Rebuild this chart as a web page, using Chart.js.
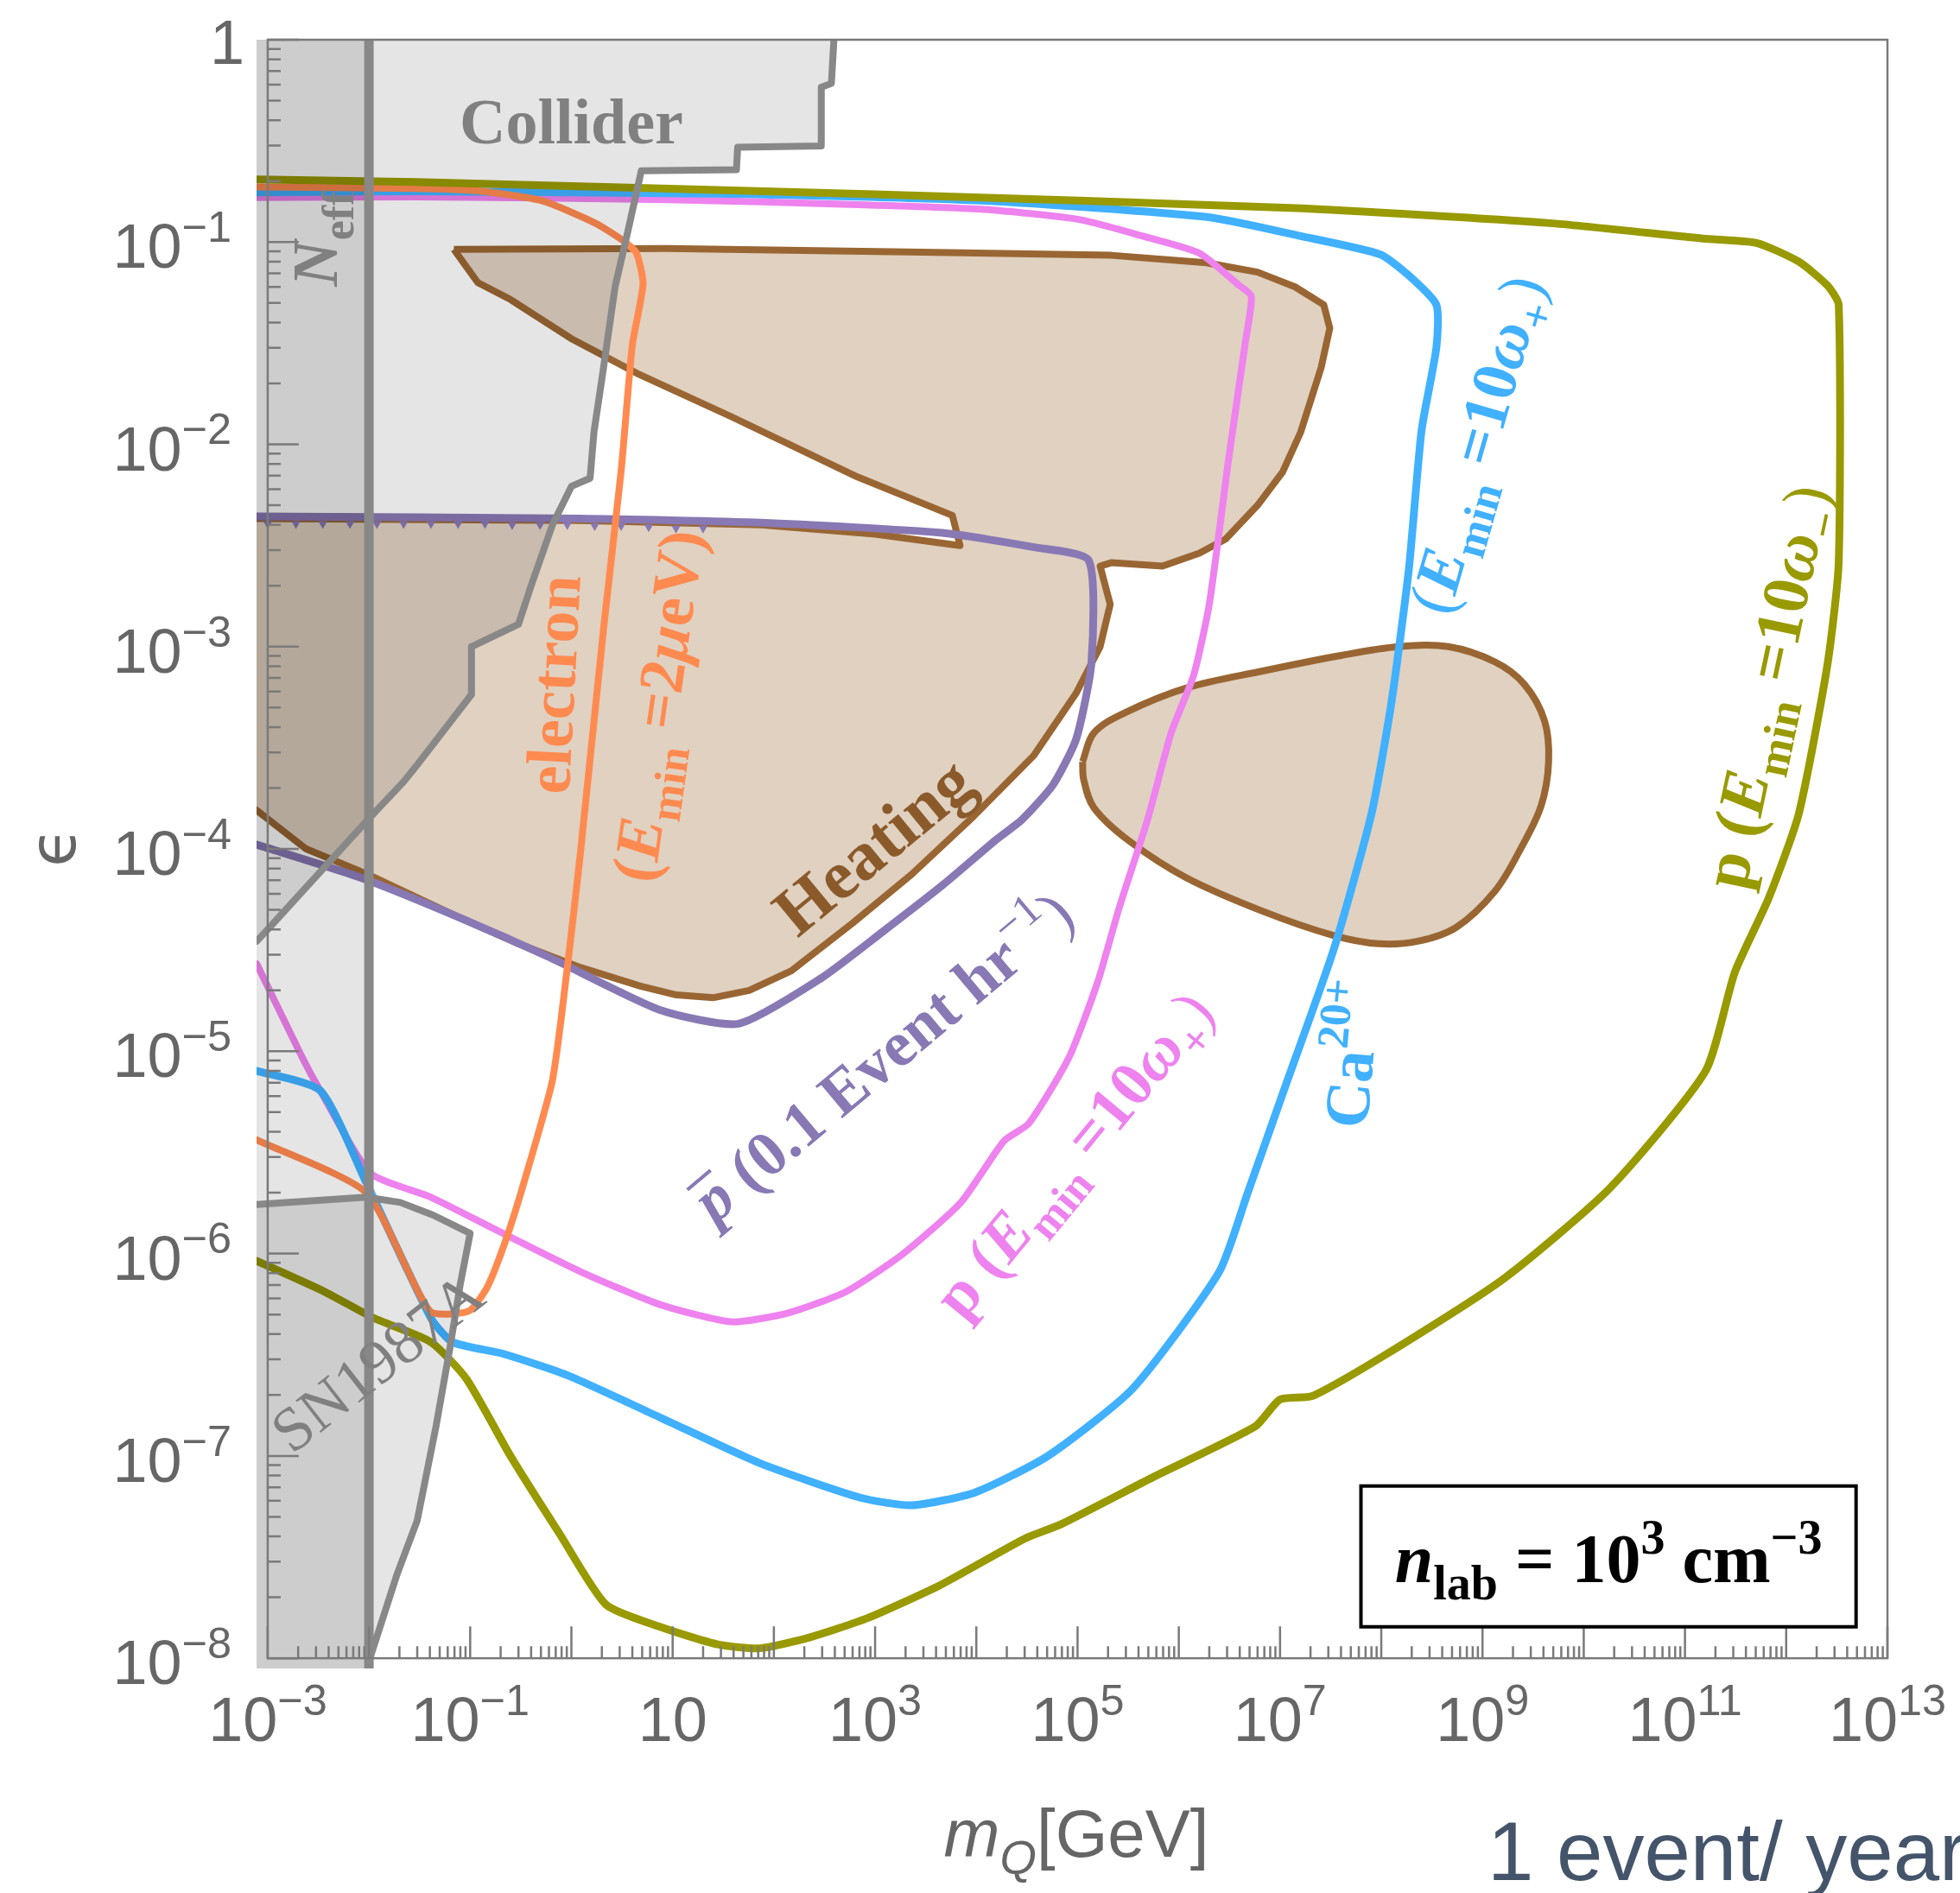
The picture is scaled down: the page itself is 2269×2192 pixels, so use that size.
<!DOCTYPE html>
<html>
<head>
<meta charset="utf-8">
<title>Millicharged particle reach, n_lab = 10^3 cm^-3</title>
<script src="https://cdn.jsdelivr.net/npm/chart.js@4.4.1/dist/chart.umd.min.js"></script>
<style>
    html, body { margin: 0; padding: 0; background: #ffffff; }
    #wrap { width: 2269px; height: 2192px; }
</style>
</head>
<body>
<div id="wrap"><canvas id="reach" width="2269" height="2192"></canvas></div>
<script>

// ####################### DATA (m_Q in GeV, epsilon) #######################

// plot range, Mathematica leaves a little padding left of 1e-3 and under 1e-8
var xRange = [7.76e-4, 1e13];
var yRange = [8.9e-9, 1];

var xTickValues = [1e-3, 1e-1, 1e1, 1e3, 1e5, 1e7, 1e9, 1e11, 1e13];
var xTickPowers = ['\u22123', '\u22121', '', '3', '5', '7', '9', '11', '13'];
var yTickValues = [1, 1e-1, 1e-2, 1e-3, 1e-4, 1e-5, 1e-6, 1e-7, 1e-8];
var yTickPowers = [null, '\u22121', '\u22122', '\u22123', '\u22124', '\u22125', '\u22126', '\u22127', '\u22128'];

// p (E_min = 10 omega_-)
var olivePts = [
    [7.8e-4, 9.2e-7], [3.6e-3, 6.5e-7], [1.12e-2, 4.8e-7], [4.1e-2, 3.65e-7], [9.2e-2, 2.4e-7],
    [0.25, 1.0e-7], [0.77, 4.1e-8], [2.2, 1.84e-8], [7.5, 1.43e-8], [27.8, 1.17e-8],
    [73, 1.12e-8], [228, 1.27e-8], [843, 1.58e-8], [4.4e3, 2.3e-8], [3.0e4, 3.9e-8],
    [6.9e4, 4.6e-8], [5.7e5, 7.9e-8], [5.7e6, 1.4e-7], [1.0e7, 1.9e-7], [2.1e7, 1.98e-7],
    [1.03e8, 3.1e-7], [1.67e9, 7.6e-7], [1.8e10, 2.1e-6], [1.6e11, 8.0e-6], [3.1e11, 2.45e-5],
    [6.7e11, 5.7e-5], [1.33e12, 1.49e-4], [2.55e12, 8.1e-4], [3.3e12, 2.6e-3], [3.3e12, 4.9e-2],
    [2.55e12, 6.1e-2], [1.33e12, 8.0e-2], [5.1e11, 9.9e-2], [1.5e11, 0.104], [4.6e9, 0.124],
    [1.45e7, 0.147], [1e3, 0.172], [2.9e-2, 0.198], [7.8e-4, 0.204]
];

// Ca20+ (E_min = 10 omega_+)
var bluePts = [
    [7.8e-4, 8.0e-6], [3.3e-3, 6.4e-6], [9.4e-3, 2.25e-6], [4.1e-2, 4.8e-7], [6.7e-2, 3.65e-7],
    [0.21, 3.2e-7], [0.92, 2.5e-7], [7.5, 1.55e-7], [73, 9.2e-8], [731, 6.2e-8],
    [2.3e3, 5.7e-8], [9.7e3, 6.6e-8], [5.1e4, 1.0e-7], [3.5e5, 2.15e-7], [2.5e6, 8.1e-7],
    [4.8e6, 2.0e-6], [1.09e7, 6.4e-6], [3.4e7, 3.2e-5], [8.0e7, 1.49e-4], [1.26e8, 5.3e-4],
    [1.87e8, 2.4e-3], [2.5e8, 1.17e-2], [3.5e8, 3.0e-2], [3.5e8, 4.9e-2], [1.77e8, 7.0e-2],
    [9.7e7, 8.7e-2], [1.6e7, 0.107], [1.9e6, 0.133], [1.2e4, 0.16], [38, 0.173],
    [2.9e-2, 0.178], [7.8e-4, 0.176]
];

// p (E_min = 10 omega_+)
var pinkPts = [
    [7.8e-4, 2.7e-5], [2.2e-3, 9.3e-6], [3.3e-3, 6.4e-6], [1.03e-2, 2.5e-6], [4.1e-2, 1.9e-6],
    [0.18, 1.31e-6], [1.26, 8.1e-7], [7.5, 5.6e-7], [38, 4.6e-7], [141, 5.1e-7],
    [520, 6.5e-7], [1.9e3, 1.0e-6], [7.1e3, 1.8e-6], [1.87e4, 3.6e-6], [3.3e4, 4.4e-6],
    [8.2e4, 9.3e-6], [1.58e5, 2.2e-5], [2.6e5, 5.2e-5], [4.9e5, 1.39e-4], [8.4e5, 3.75e-4],
    [1.4e6, 7.2e-4], [2.0e6, 1.62e-3], [3.1e6, 8.4e-3], [4.5e6, 3.1e-2], [5.2e6, 5.4e-2],
    [3.8e6, 6.2e-2], [1.6e6, 8.8e-2], [4.4e5, 0.107], [1.06e5, 0.129], [1.2e4, 0.145],
    [670, 0.153], [8.9, 0.162], [2.9e-2, 0.167], [7.8e-4, 0.166]
];

// electron (E_min = 2 ueV)
var orangePts = [
    [7.8e-4, 3.65e-6], [9.4e-3, 2.0e-6], [4.0e-2, 5.2e-7], [9.7e-2, 5.2e-7], [0.149, 6.9e-7],
    [0.228, 1.19e-6], [0.34, 2.25e-6], [0.65, 7.2e-6], [0.92, 2.7e-5], [1.22, 9.3e-5],
    [2.1, 1.29e-3], [3.1, 7.4e-3], [4.0, 3.1e-2], [5.1, 6.2e-2], [4.4, 8.8e-2],
    [3.3, 0.101], [1.72, 0.124], [0.51, 0.16], [0.119, 0.179], [2.9e-2, 0.184], [7.8e-4, 0.187]
];

// anti-proton (0.1 event / hr)
var purplePts = [
    [7.8e-4, 1.05e-4], [8.4e-3, 7.2e-5], [7.7e-2, 4.6e-5], [0.62, 2.9e-5], [7.5, 1.6e-5],
    [45, 1.37e-5], [294, 2.3e-5], [1.19e3, 3.9e-5], [4.6e3, 6.6e-5], [1.6e4, 1.12e-4],
    [2.8e4, 1.39e-4], [5.7e4, 2.07e-4], [9.7e4, 3.5e-4], [1.37e5, 8.3e-4], [1.29e5, 2.67e-3],
    [3.7e4, 3.1e-3], [4.6e3, 3.65e-3], [75, 4.1e-3], [1.22, 4.3e-3], [7.8e-4, 4.4e-3]
];

// small teeth hanging under the flat part of the anti-proton line
var purpleTeeth = [
    [1.0e-3, 4.05e-3], [1.9e-3, 4.05e-3], [3.5e-3, 4.05e-3], [6.5e-3, 4.05e-3], [1.2e-2, 4.05e-3],
    [2.2e-2, 4.05e-3], [4.1e-2, 4.05e-3], [7.6e-2, 4.05e-3], [0.14, 4.05e-3], [0.26, 4.0e-3],
    [0.49, 4.0e-3], [0.91, 4.0e-3], [1.7, 3.95e-3], [3.1, 3.95e-3], [5.8, 3.9e-3],
    [10.8, 3.85e-3], [20, 3.85e-3]
];

// heating exclusion, large outline (two lobes joined)
var heatingPts = [
    [6.9e-2, 9.2e-2], [8.9, 9.3e-2], [2.9e3, 8.9e-2], [2.15e5, 8.6e-2], [1.87e6, 7.9e-2],
    [6.0e6, 7.1e-2], [1.41e7, 6.0e-2], [2.7e7, 4.9e-2], [3.1e7, 3.75e-2], [2.55e7, 2.4e-2],
    [1.6e7, 1.15e-2], [1.06e7, 7.3e-3], [6.0e6, 5.0e-3], [2.9e6, 3.4e-3], [1.6e6, 2.9e-3],
    [6.9e5, 2.5e-3], [2.15e5, 2.6e-3], [1.67e5, 2.5e-3], [2.1e5, 1.62e-3], [1.67e5, 1.0e-3],
    [9.7e4, 5.9e-4], [3.7e4, 2.9e-4], [9.4e3, 1.45e-4], [2.3e3, 7.5e-5], [600, 4.3e-5],
    [149, 2.5e-5], [57, 2.0e-5], [25, 1.84e-5], [10.9, 1.9e-5], [4.8, 2.1e-5],
    [1.22, 2.6e-5], [0.30, 3.4e-5], [7.7e-2, 4.6e-5], [9.7e-3, 7.5e-5], [2.4e-3, 1.0e-4],
    [7.8e-4, 1.55e-4], [6e-4, 1.7e-4], [6e-4, 4.3e-3], [1.22, 4.2e-3], [75, 4.0e-3],
    [1e3, 3.6e-3], [6.9e3, 3.16e-3], [5.8e3, 4.45e-3], [670, 6.9e-3], [38, 1.37e-2],
    [4.4, 2.25e-2], [1.03, 3.3e-2], [0.25, 5.2e-2], [0.119, 6.3e-2], [6.9e-2, 9.2e-2]
];

// heating exclusion, separate island
var blobPts = [
    [1.12e5, 2.7e-4], [1.45e5, 3.75e-4], [2.9e5, 4.7e-4], [1.19e6, 6.25e-4], [6.9e6, 7.6e-4],
    [4.0e7, 9.05e-4], [1.49e8, 1.0e-3], [4.6e8, 1.0e-3], [1.33e9, 8.4e-4], [2.6e9, 6.5e-4],
    [4.1e9, 4.3e-4], [4.5e9, 2.7e-4], [3.8e9, 1.64e-4], [2.4e9, 1.01e-4], [1.33e9, 6.2e-5],
    [5.5e8, 4.1e-5], [2.3e8, 3.5e-5], [9.4e7, 3.4e-5], [3.3e7, 3.75e-5], [6.9e6, 4.9e-5],
    [1.19e6, 7.2e-5], [3.2e5, 1.1e-4], [1.45e5, 1.6e-4], [1.15e5, 2.2e-4], [1.12e5, 2.7e-4]
];

// collider bound (excluded to the upper left)
var colliderEdge = [
    [392, 1], [370, 0.608], [294, 0.582], [294, 0.2985], [43.9, 0.294], [42.7, 0.228], [4.9, 0.225],
    [3.6, 0.112], [2.7, 0.06], [2.04, 2.25e-2], [1.67, 1.15e-2], [1.53, 6.8e-3], [1.0, 6.2e-3],
    [0.65, 4.0e-3], [0.40, 2.0e-3], [0.30, 1.29e-3], [0.103, 1.0e-3], [0.103, 5.8e-4],
    [2.9e-2, 2.55e-4], [2.2e-2, 2.15e-4], [9.7e-3, 1.39e-4], [1e-3, 4.0e-5], [7.8e-4, 3.5e-5]
];
var colliderCorners = [[6e-4, 3.2e-5], [6e-4, 1.5], [392, 1.5]];

// SN1987A bound (excluded to the lower left)
var snEdge = [
    [7.8e-4, 1.75e-6], [9.4e-3, 1.9e-6], [2.04e-2, 1.79e-6], [4.3e-2, 1.55e-6], [0.1, 1.26e-6],
    [8.0e-2, 7.1e-7], [6.3e-2, 3.4e-7], [4.6e-2, 1.4e-7], [3.0e-2, 4.8e-8], [1.87e-2, 2.55e-8],
    [1.03e-2, 1.01e-8], [9.5e-3, 8.0e-9]
];
var snCorners = [[6e-4, 8.0e-9], [6e-4, 1.75e-6]];

// N_eff bound, m_Q < 10 MeV
var neffEdge = [[1e-2, 8.0e-9], [1e-2, 1.03]];
var neffBox = [[6e-4, 8.0e-9], [1e-2, 8.0e-9], [1e-2, 1.5], [6e-4, 1.5], [6e-4, 8.0e-9]];

// ####################### COLOURS #######################

var cOlive = '#999900';
var cBlue = '#40b0ff';
var cPink = '#ee82ee';
var cOrange = '#ff8a50';
var cPurple = '#8878b4';
var cBrown = '#996633';
var cGray = '#888888';
var tanFill = 'rgba(153,102,51,0.3)';
var grayFill = 'rgba(0,0,0,0.1)';

// ####################### HELPERS #######################

function toXY(pts) {
    return pts.map(function (p) { return {x: p[0], y: p[1]}; });
}

function curve(pts, color, width, tension) {
    return {
        data: toXY(pts), borderColor: color, borderWidth: width, tension: tension || 0,
        pointRadius: 0, fill: false, clip: 0, borderJoinStyle: 'round', borderCapStyle: 'round'
    };
}

function region(pts, fillColor, lineColor, width, tension) {
    return {
        data: toXY(pts), backgroundColor: fillColor, borderColor: lineColor || 'rgba(0,0,0,0)',
        borderWidth: width || 1, tension: tension || 0, pointRadius: 0, fill: 'shape', clip: 0,
        borderJoinStyle: 'round'
    };
}

function markers(pts, color, radius) {
    return {
        data: toXY(pts), showLine: false, pointStyle: 'triangle', rotation: 180,
        pointRadius: radius, pointBackgroundColor: color, pointBorderColor: color,
        pointBorderWidth: 0, fill: false, clip: 0
    };
}

function fontFor(style, size, family) {
    var f = '';
    if (style.indexOf('i') >= 0) f += 'italic ';
    if (style.indexOf('b') >= 0) f += 'bold ';
    return f + size + 'px ' + family;
}

// segments: [text, style]; style: b bold, i italic, _ subscript, ^ superscript, o overline
function drawRich(ctx, segs, x, y, opts) {
    var size = opts.size, family = opts.family, align = opts.align || 'center';
    ctx.save();
    ctx.translate(x, y);
    ctx.rotate((opts.angle || 0) * Math.PI / 180);
    ctx.fillStyle = opts.color;
    ctx.strokeStyle = opts.color;
    ctx.textAlign = 'left';
    ctx.textBaseline = 'alphabetic';

    var parts = [], total = 0;
    segs.forEach(function (sg) {
        var st = sg[1] || '';
        var small = st.indexOf('_') >= 0 || st.indexOf('^') >= 0;
        var fs = small ? size * 0.7 : size;
        ctx.font = fontFor(st, fs, family);
        var w = ctx.measureText(sg[0]).width;
        parts.push({t: sg[0], st: st, fs: fs, w: w});
        total += w;
    });

    var cx = align == 'center' ? -total / 2 : (align == 'right' ? -total : 0);
    var base = opts.dy !== undefined ? opts.dy : size * 0.33;
    parts.forEach(function (p) {
        ctx.font = fontFor(p.st, p.fs, family);
        var shift = 0;
        if (p.st.indexOf('_') >= 0) shift = size * 0.25;
        if (p.st.indexOf('^') >= 0) shift = -size * 0.42;
        ctx.fillText(p.t, cx, base + shift);
        if (p.st.indexOf('o') >= 0) {
            ctx.lineWidth = size * 0.055;
            ctx.beginPath();
            ctx.moveTo(cx + p.w * 0.05, base - size * 0.7);
            ctx.lineTo(cx + p.w * 1.0, base - size * 0.7);
            ctx.stroke();
        }
        cx += p.w;
    });
    ctx.restore();
}

// ####################### DECORATION: FRAME, TICKS, TEXT #######################

var SANS = "'Liberation Sans', Arial, sans-serif";
var SERIF = "'Liberation Serif', 'Times New Roman', serif";

var decorPlugin = {
    id: 'decor',
    beforeDraw: function (chart) {
        var ctx = chart.ctx;
        ctx.save();
        ctx.fillStyle = '#ffffff';
        ctx.fillRect(0, 0, chart.width, chart.height);
        ctx.restore();
    },
    afterDatasetsDraw: function (chart) {
        var ctx = chart.ctx;
        var xs = chart.scales.x, ys = chart.scales.y;
        var L = xs.getPixelForValue(1e-3), R = xs.getPixelForValue(1e13);
        var T = ys.getPixelForValue(1), B = ys.getPixelForValue(1e-8);
        var d, k, p;

        // frame
        ctx.save();
        ctx.strokeStyle = '#7a7a7a';
        ctx.lineWidth = 2.5;
        ctx.strokeRect(L, T, R - L, B - T);

        // inward ticks
        ctx.lineWidth = 2.5;
        ctx.beginPath();
        for (d = -3; d <= 13; d++) {
            p = xs.getPixelForValue(Math.pow(10, d));
            ctx.moveTo(p, B); ctx.lineTo(p, B - 37);
            if (d < 13) {
                for (k = 2; k <= 9; k++) {
                    p = xs.getPixelForValue(k * Math.pow(10, d));
                    ctx.moveTo(p, B); ctx.lineTo(p, B - 14);
                }
            }
        }
        for (d = -8; d <= 0; d++) {
            p = ys.getPixelForValue(Math.pow(10, d));
            ctx.moveTo(L, p); ctx.lineTo(L + 36, p);
            if (d < 0) {
                for (k = 2; k <= 9; k++) {
                    p = ys.getPixelForValue(k * Math.pow(10, d));
                    ctx.moveTo(L, p); ctx.lineTo(L + 15, p);
                }
            }
        }
        ctx.stroke();
        ctx.restore();

        // tick labels
        xTickValues.forEach(function (v, i) {
            var segs = [['10', '']];
            if (xTickPowers[i] !== '') segs.push([xTickPowers[i], '^']);
            drawRich(ctx, segs, xs.getPixelForValue(v), 2016,
                {size: 72, family: SANS, color: '#666666', align: 'center', dy: 0});
        });
        yTickValues.forEach(function (v, i) {
            var py = ys.getPixelForValue(v);
            if (yTickPowers[i] === null) {
                drawRich(ctx, [['1', '']], 283, py + 28,
                    {size: 72, family: SANS, color: '#666666', align: 'right', dy: 0});
            } else {
                drawRich(ctx, [['10', ''], [yTickPowers[i], '^']], 268, py + 30,
                    {size: 72, family: SANS, color: '#666666', align: 'right', dy: 0});
            }
        });

        // axis titles
        drawRich(ctx, [['m', 'i'], ['Q', 'i_'], ['[GeV]', '']], 1246, 2150,
            {size: 78, family: SANS, color: '#666666', align: 'center', dy: 0});
        drawRich(ctx, [['\u03f5', '']], 63, 981,
            {size: 74, family: "'DejaVu Sans', sans-serif", color: '#666666', angle: -90});

        // labels inside the plot
        var notes = [
            {t: [['Collider', 'b']], at: [1.0, 0.39], a: 0, s: 74, c: '#808080'},
            {t: [['N', 'bi'], ['eff', 'b_']], at: [3.0e-3, 0.104], a: -90, s: 74, c: '#808080'},
            {t: [['SN1987A', '']], at: [1.21e-2, 2.9e-7], a: -38, s: 72, c: '#808080'},
            {t: [['Heating', 'b']], at: [960, 1.03e-4], a: -39.5, s: 80, c: '#8b5a2b'},
            {t: [['electron', 'b']], at: [0.667, 6.5e-4], a: -87, s: 74, c: cOrange},
            {t: [['(', 'b'], ['E', 'bi'], ['min', 'b_'], [' =2', 'b'], ['\u03bc', 'bi'], ['eV)', 'b']],
                at: [7.2, 5.1e-4], a: -82, s: 74, c: cOrange},
            {t: [['p', 'bio'], [' (0.1 Event hr', 'b'], ['\u22121', '^'], [')', '']],
                at: [1.19e3, 9.4e-6], a: -40, s: 74, c: cPurple},
            {t: [['p (', 'b'], ['E', 'bi'], ['min', 'b_'], [' =10', 'b'], ['\u03c9', 'bi'], ['+', 'b_'], [')', '']],
                at: [9.1e4, 3.1e-6], a: -50.5, s: 74, c: cPink},
            {t: [['Ca', 'b'], ['20+', 'b^']], at: [5.2e7, 9.7e-6], a: -85, s: 74, c: cBlue},
            {t: [['(', ''], ['E', 'bi'], ['min', 'b_'], [' =10', 'b'], ['\u03c9', 'bi'], ['+', 'b_'], [')', '']],
                at: [8.8e8, 1.0e-2], a: -74, s: 74, c: cBlue},
            {t: [['p (', 'b'], ['E', 'bi'], ['min', 'b_'], [' =10', 'b'], ['\u03c9', 'bi'], ['\u2212', 'b_'], [')', '']],
                at: [6.4e11, 6.35e-4], a: -78, s: 76, c: cOlive}
        ];
        notes.forEach(function (n) {
            drawRich(ctx, n.t, xs.getPixelForValue(n.at[0]), ys.getPixelForValue(n.at[1]),
                {size: n.s, family: SERIF, color: n.c, angle: n.a});
        });

        // density box
        var bx0 = xs.getPixelForValue(6.3e7), bx1 = xs.getPixelForValue(4.9e12);
        var by0 = ys.getPixelForValue(7.1e-8), by1 = ys.getPixelForValue(1.43e-8);
        ctx.save();
        ctx.fillStyle = '#ffffff';
        ctx.fillRect(bx0, by0, bx1 - bx0, by1 - by0);
        ctx.strokeStyle = '#000000';
        ctx.lineWidth = 4;
        ctx.strokeRect(bx0, by0, bx1 - bx0, by1 - by0);
        ctx.restore();
        drawRich(ctx, [['n', 'bi'], ['lab', 'b_'], [' = 10', 'b'], ['3', 'b^'], [' cm', 'b'], ['\u22123', 'b^']],
            (bx0 + bx1) / 2, (by0 + by1) / 2,
            {size: 80, family: SERIF, color: '#000000', dy: 30});

        // slide caption
        ctx.save();
        ctx.font = '96px ' + SANS;
        ctx.fillStyle = '#44546a';
        ctx.textAlign = 'left';
        ctx.textBaseline = 'alphabetic';
        ctx.fillText('1 event/ year', 1722, 2177);
        ctx.restore();
    }
};

// ####################### CHART #######################

var datasets = [
    region(heatingPts, tanFill, cBrown, 8, 0),
    region(blobPts, tanFill, cBrown, 8, 0.35),
    markers(purpleTeeth, cPurple, 6),
    curve(purplePts, cPurple, 9, 0.2),
    curve(pinkPts, cPink, 8, 0.2),
    curve(bluePts, cBlue, 9, 0.2),
    curve(orangePts, cOrange, 8, 0.2),
    curve(olivePts, cOlive, 9, 0.2),
    region(neffBox, grayFill, null, 1, 0),
    region(colliderEdge.concat(colliderCorners).concat([colliderEdge[0]]), grayFill, null, 1, 0),
    region(snEdge.concat(snCorners).concat([snEdge[0]]), grayFill, null, 1, 0),
    curve(colliderEdge, cGray, 8, 0),
    curve(snEdge, cGray, 8, 0),
    curve(neffEdge, cGray, 11, 0)
];
// first in the list is drawn first (underneath)
datasets.forEach(function (ds, i) { ds.order = datasets.length - i; });

var chart = new Chart(document.getElementById('reach'), {
    type: 'line',
    data: {datasets: datasets},
    options: {
        responsive: false,
        devicePixelRatio: 1,
        animation: false,
        events: [],
        layout: {padding: {left: 297, right: 84, top: 46, bottom: 260}},
        scales: {
            x: {type: 'logarithmic', min: xRange[0], max: xRange[1], display: false},
            y: {type: 'logarithmic', min: yRange[0], max: yRange[1], display: false}
        },
        plugins: {
            legend: {display: false},
            tooltip: {enabled: false}
        }
    },
    plugins: [decorPlugin]
});

</script>
</body>
</html>
